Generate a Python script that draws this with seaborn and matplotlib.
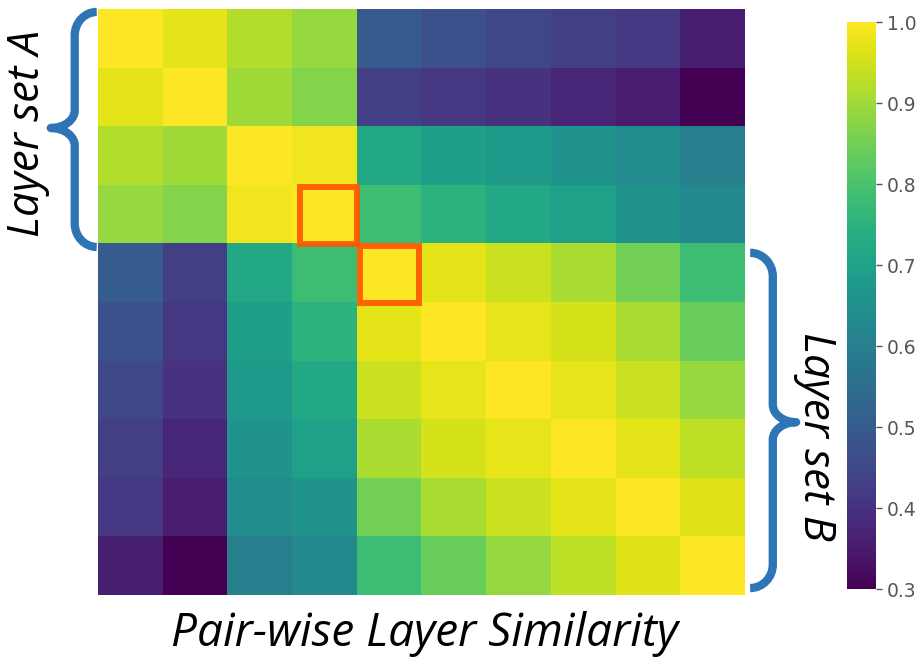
import numpy as np
import pandas as pd
import seaborn as sns
import matplotlib.pyplot as plt
from matplotlib.path import Path
from matplotlib.patches import PathPatch, Rectangle

# Slicnost parova slojeva (10 x 10), procitano sa slike
row0 = [1.00, 0.97, 0.92, 0.89, 0.50, 0.47, 0.45, 0.43, 0.41, 0.36]
row1 = [0.97, 1.00, 0.90, 0.87, 0.43, 0.41, 0.40, 0.375, 0.355, 0.30]
row2 = [0.92, 0.90, 1.00, 0.985, 0.72, 0.69, 0.675, 0.66, 0.635, 0.60]
row3 = [0.89, 0.87, 0.985, 1.00, 0.78, 0.75, 0.72, 0.695, 0.66, 0.63]
row4 = [0.50, 0.43, 0.72, 0.78, 1.00, 0.97, 0.945, 0.91, 0.85, 0.78]
row5 = [0.47, 0.41, 0.69, 0.75, 0.97, 1.00, 0.975, 0.955, 0.91, 0.84]
row6 = [0.45, 0.40, 0.675, 0.72, 0.945, 0.975, 1.00, 0.975, 0.945, 0.89]
row7 = [0.43, 0.375, 0.66, 0.695, 0.91, 0.955, 0.975, 1.00, 0.97, 0.93]
row8 = [0.41, 0.355, 0.635, 0.66, 0.85, 0.91, 0.945, 0.97, 1.00, 0.965]
row9 = [0.36, 0.30, 0.60, 0.63, 0.78, 0.84, 0.89, 0.93, 0.965, 1.00]
sim = pd.DataFrame([row0, row1, row2, row3, row4, row5, row6, row7, row8, row9])

cbar_ticks = [0.3, 0.4, 0.5, 0.6, 0.7, 0.8, 0.9, 1.0]
highlight = [3, 4]  # dijagonalne celije sa okvirom

BLUE = '#2e75b6'
ORANGE = '#ff5500'
TXT_FONT = ['Open Sans', 'DejaVu Sans']

fig = plt.figure(figsize=(9.22, 6.59), dpi=100)
ax = fig.add_axes([0.1063, 0.097, 0.7017, 0.8893])
cax = fig.add_axes([0.9187, 0.106, 0.0315, 0.8606])

sns.heatmap(sim, ax=ax, cbar_ax=cax, cmap='viridis', vmin=0.3, vmax=1.0,
            xticklabels=False, yticklabels=False,
            cbar_kws={'ticks': cbar_ticks})
ax.tick_params(left=False, bottom=False)
ax.set_xlabel('')
ax.set_ylabel('')

cax.tick_params(labelsize=13.5, colors='#555555', length=4, width=1)
cax.set_yticklabels([f'{t:.1f}' for t in cbar_ticks])

# okviri oko dve dijagonalne celije
ax.add_patch(Rectangle((highlight[0] + 0.12, highlight[0] + 0.04), 0.89, 0.97,
                       fill=False, ec=ORANGE, lw=4.3, alpha=0.9, clip_on=False))
ax.add_patch(Rectangle((highlight[1] + 0.05, highlight[1] + 0.04), 0.91, 0.98,
                       fill=False, ec=ORANGE, lw=4.3, alpha=0.9, clip_on=False))


def brace(ax, xe, xm, xt, y0, y1, ymid, r=0.4, rm=0.3):
    k = 0.55
    verts = [(xe, y0),
             (xe + (xm - xe) * k, y0), (xm, y0 + r * (1 - k)), (xm, y0 + r),
             (xm, ymid - rm),
             (xm, ymid - rm * (1 - k)), (xt - (xt - xm) * k, ymid), (xt, ymid),
             (xt - (xt - xm) * k, ymid), (xm, ymid + rm * (1 - k)), (xm, ymid + rm),
             (xm, y1 - r),
             (xm, y1 - r * (1 - k)), (xe + (xm - xe) * k, y1), (xe, y1)]
    codes = [Path.MOVETO,
             Path.CURVE4, Path.CURVE4, Path.CURVE4,
             Path.LINETO,
             Path.CURVE4, Path.CURVE4, Path.CURVE4,
             Path.CURVE4, Path.CURVE4, Path.CURVE4,
             Path.LINETO,
             Path.CURVE4, Path.CURVE4, Path.CURVE4]
    ax.add_patch(PathPatch(Path(verts, codes), fill=False, ec=BLUE, lw=6,
                           capstyle='butt', joinstyle='round', clip_on=False))


brace(ax, -0.02, -0.36, -0.73, 0.05, 4.06, 2.03)
brace(ax, 10.08, 10.43, 10.79, 4.16, 9.88, 7.05)

side_kw = dict(fontsize=31.5, style='italic', family=TXT_FONT)
fig.text(0.030, 0.797, 'Layer set A', rotation=90, ha='center', va='center', **side_kw)
fig.text(0.884, 0.337, 'Layer set B', rotation=-90, ha='center', va='center', **side_kw)
fig.text(0.46, 0.038, 'Pair-wise Layer Similarity', ha='center', va='center',
         fontsize=33, style='italic', family=TXT_FONT)

plt.savefig('out.png', dpi=100)
